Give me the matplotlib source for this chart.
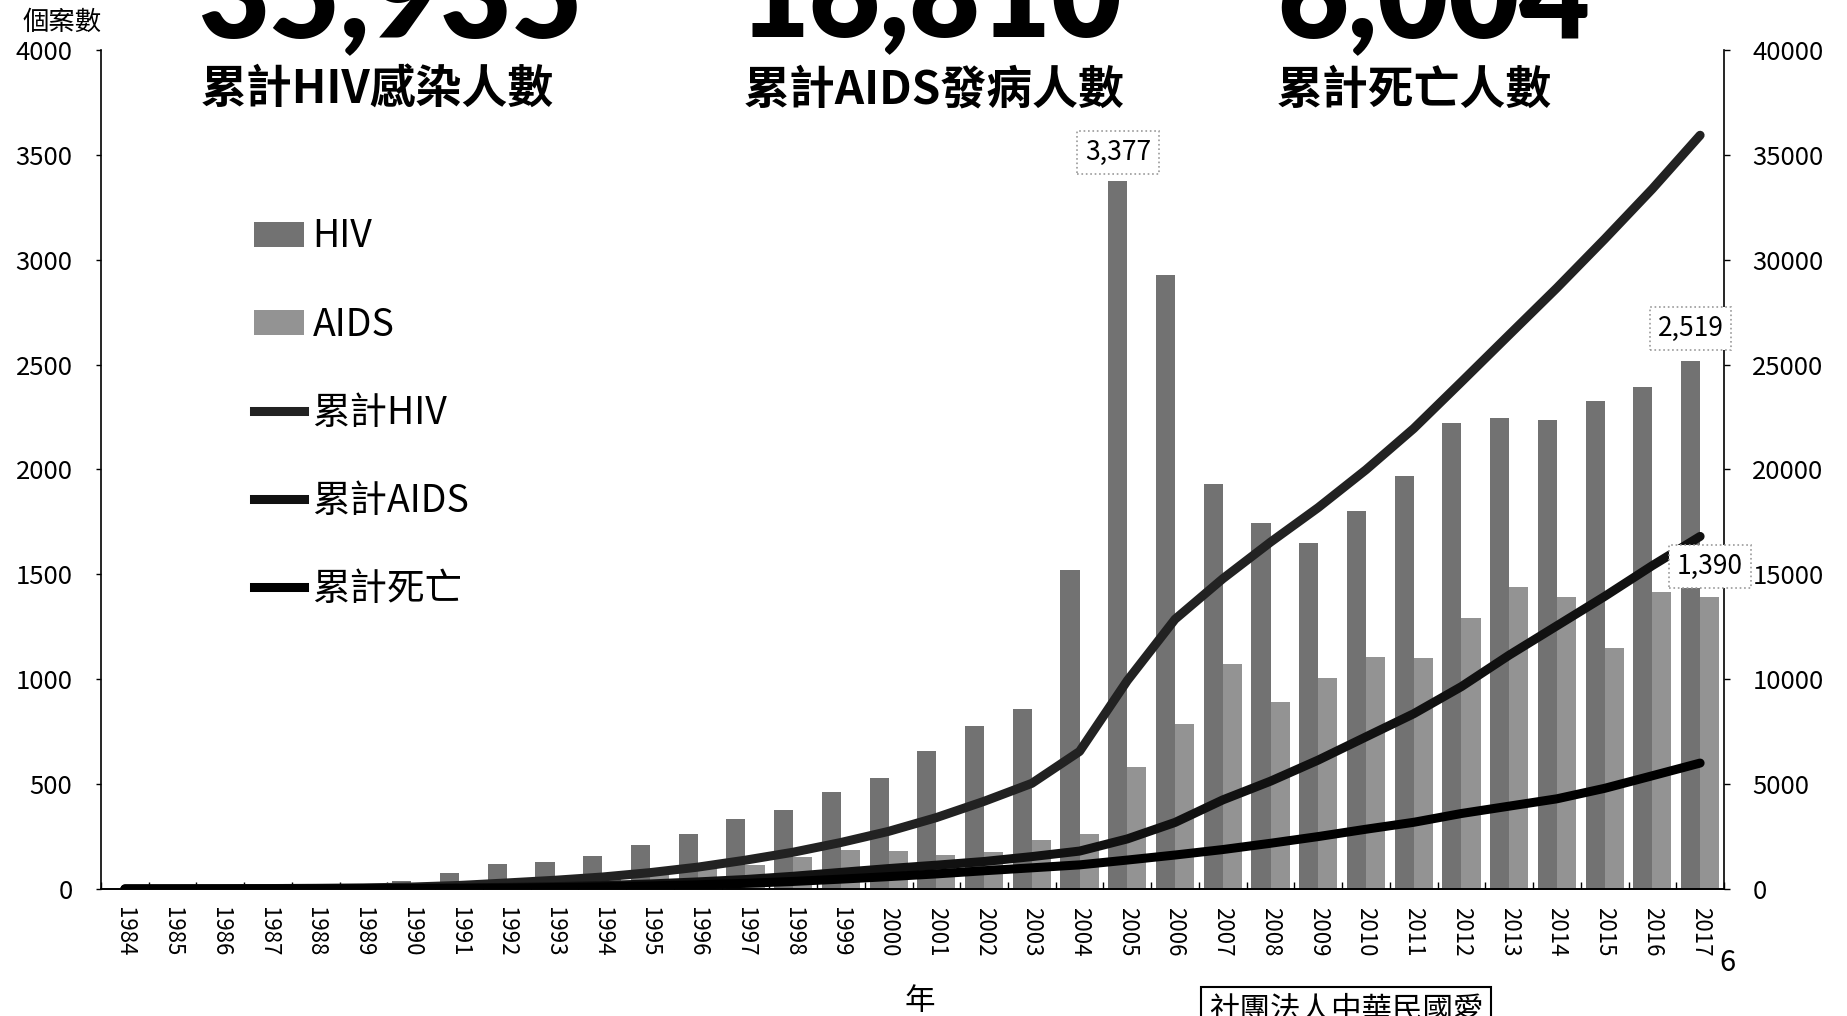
import matplotlib
matplotlib.use("Agg")
import matplotlib.pyplot as plt
import numpy as np
from matplotlib.patches import Patch
from matplotlib.lines import Line2D

plt.rcParams["font.family"] = ["Noto Sans CJK TC", "DejaVu Sans"]

# ---- data ----
years = [str(y) for y in range(1984, 2018)]

hiv_new = [2, 3, 5, 11, 12, 21, 39, 76, 119, 127, 156, 209, 262, 333, 379, 463,
           531, 657, 775, 858, 1521, 3377, 2925, 1931, 1745, 1648, 1802, 1967,
           2224, 2244, 2236, 2327, 2395, 2519]
aids_new = [1, 1, 2, 5, 6, 8, 13, 17, 24, 36, 52, 75, 98, 114, 154, 186,
            182, 162, 175, 233, 264, 580, 786, 1074, 892, 1007, 1107, 1103,
            1294, 1438, 1390, 1150, 1414, 1390]

cum_hiv = [2, 5, 10, 21, 33, 54, 93, 169, 288, 415, 571, 780, 1042, 1375, 1754,
           2217, 2748, 3405, 4180, 5038, 6559, 9936, 12861, 14792, 16537, 18185,
           19987, 21954, 24178, 26422, 28658, 30985, 33380, 35935]
cum_aids = [1, 2, 4, 9, 15, 23, 36, 53, 77, 113, 165, 240, 338, 452, 606, 792,
            974, 1136, 1311, 1544, 1808, 2388, 3174, 4248, 5140, 6147, 7254,
            8357, 9651, 11150, 12550, 13950, 15420, 16810]
cum_death = [0, 1, 2, 4, 7, 12, 20, 30, 45, 70, 100, 145, 200, 270, 360, 470,
             590, 720, 870, 1010, 1150, 1380, 1620, 1880, 2180, 2500, 2850,
             3180, 3600, 3950, 4300, 4800, 5400, 6004]

headline_values = ["35,935", "16,810", "6,004"]
headline_titles = ["累計HIV感染人數", "累計AIDS發病人數", "累計死亡人數"]

left_ticks = list(range(0, 4001, 500))
right_ticks = list(range(0, 40001, 5000))

HIV_COLOR = "#727272"
AIDS_COLOR = "#939393"

fig = plt.figure(figsize=(18.47, 10.16), dpi=100)
ax = fig.add_axes([0.0547, 0.125, 0.8787, 0.8258])
ax2 = ax.twinx()

x = np.arange(len(years))
ax.bar(x - 0.2, hiv_new, width=0.4, color=HIV_COLOR, linewidth=0)
ax.bar(x + 0.2, aids_new, width=0.4, color=AIDS_COLOR, linewidth=0)

line_kw = dict(linewidth=6.5, solid_capstyle="round", solid_joinstyle="round")
ax2.plot(x, cum_hiv, color="#222222", **line_kw)
ax2.plot(x, cum_aids, color="#111111", **line_kw)
ax2.plot(x, cum_death, color="#000000", **line_kw)

ax.set_xlim(-0.5, len(years) - 0.5)
ax.set_ylim(0, 4000)
ax2.set_ylim(0, 40000)

ax.set_yticks(left_ticks)
ax.set_yticklabels([str(v) for v in left_ticks])
ax2.set_yticks(right_ticks)
ax2.set_yticklabels([str(v) for v in right_ticks])

ax.set_xticks(x)
ax.set_xticklabels(years, rotation=-90, fontsize=16)
ax.set_xticks(np.arange(-0.5, len(years), 1.0), minor=True)
ax.tick_params(axis="x", which="major", length=0, pad=13)
ax.tick_params(axis="x", which="minor", length=5, direction="in", width=1)
ax.tick_params(axis="y", length=3.5, width=1, pad=17, labelsize=18.5)
ax2.tick_params(axis="y", length=4.5, width=1, pad=16, labelsize=18.5)

for a in (ax, ax2):
    a.spines["top"].set_visible(False)
ax2.spines["left"].set_visible(False)
ax2.spines["bottom"].set_visible(False)
ax.spines["right"].set_visible(False)
ax.spines["left"].set_linewidth(1.2)
ax.spines["bottom"].set_linewidth(1.4)
ax2.spines["right"].set_linewidth(1.2)

# value call-outs
box = dict(boxstyle="square,pad=0.3", facecolor="white", edgecolor="#9a9a9a",
           linestyle=":", linewidth=1.2)
callouts = [(21 - 0.2, hiv_new[21], 20), (33 - 0.2, hiv_new[33], 23),
            (33 + 0.2, aids_new[33], 22)]
for cx, cy, off in callouts:
    ax2.annotate(f"{cy:,}", xy=(cx, cy), xycoords=ax.transData,
                 xytext=(0, off), textcoords="offset points",
                 ha="center", va="center", fontsize=19, bbox=box,
                 annotation_clip=False, zorder=10)

# legend
handles = [
    Patch(facecolor=HIV_COLOR, edgecolor="none", label="HIV"),
    Patch(facecolor=AIDS_COLOR, edgecolor="none", label="AIDS"),
    Line2D([0], [0], color="#222222", linewidth=6.5, label="累計HIV"),
    Line2D([0], [0], color="#111111", linewidth=6.5, label="累計AIDS"),
    Line2D([0], [0], color="#000000", linewidth=6.5, label="累計死亡"),
]
fig.legend(handles=handles, loc="upper left", bbox_to_anchor=(0.1375, 0.786),
           frameon=False, fontsize=27, handlelength=1.34, handleheight=0.63,
           handletextpad=0.22, labelspacing=1.31, borderpad=0, borderaxespad=0)

# headline numbers and titles
head_x = [390, 931, 1434]
title_x = [377, 934, 1414]
for hx, tx, val, ttl in zip(head_x, title_x, headline_values, headline_titles):
    fig.text(hx / 1847, 1 - 37 / 1016, val, ha="center", va="baseline",
             fontsize=88, fontweight="heavy", family=["Lato", "DejaVu Sans"])
    fig.text(tx / 1847, 1 - 91 / 1016, ttl, ha="center", va="center",
             fontsize=33, fontweight="bold")

fig.text(62 / 1847, 1 - 22 / 1016, "個案數", ha="center", va="center", fontsize=19)
fig.text(920 / 1847, 1 - 1001 / 1016, "年", ha="center", va="center", fontsize=22)
fig.text(1727 / 1847, 1 - 963 / 1016, "6", ha="center", va="center", fontsize=21)
fig.text(1346 / 1847, 1 - 1010 / 1016, "社團法人中華民國愛", ha="center",
         va="center", fontsize=22,
         bbox=dict(boxstyle="square,pad=0.25", facecolor="white",
                   edgecolor="black", linewidth=1.5))

fig.savefig("out.png", dpi=100)
